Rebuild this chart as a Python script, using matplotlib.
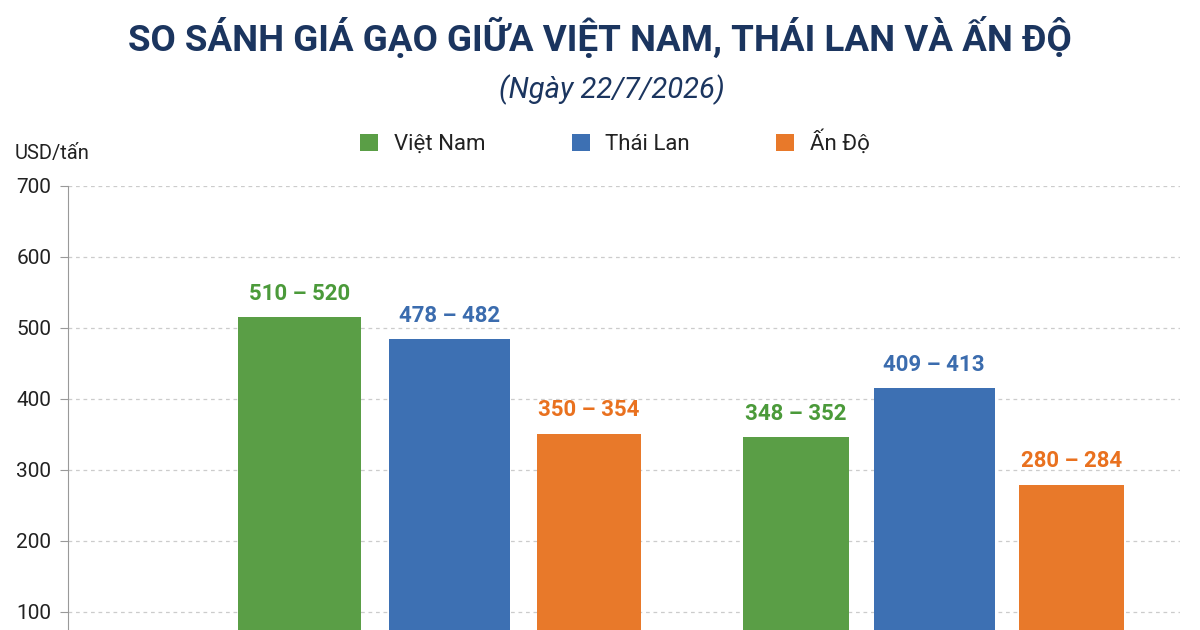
import matplotlib.pyplot as plt
import numpy as np

# du lieu
nhom = ['Nhóm 1', 'Nhóm 2']
quoc_gia = ['Việt Nam', 'Thái Lan', 'Ấn Độ']
gia_vn = [515, 346]
gia_tl = [484, 415]
gia_ad = [351, 279]
nhan_vn = ['510 – 520', '348 – 352']
nhan_tl = ['478 – 482', '409 – 413']
nhan_ad = ['350 – 354', '280 – 284']
yticks = [100, 200, 300, 400, 500, 600, 700]

mau_cot = ['#5a9e46', '#3d70b3', '#e8792a']
mau_chu = ['#4b9a3a', '#3b6cae', '#e9711f']

plt.rcParams['font.family'] = ['Roboto', 'DejaVu Sans']

fig = plt.figure(figsize=(12, 6.3), dpi=100)
fig.patch.set_facecolor('white')
ax = fig.add_axes([0.0567, 0.0, 0.9266, 0.7048])

x = np.arange(len(nhom))
# vi tri va do rong cot (theo tung nhom)
lech = [[-0.311, -0.285], [0.0, 0.0], [0.287, 0.284]]
rong = [[0.254, 0.219], [0.25, 0.25], [0.215, 0.215]]
series = [gia_vn, gia_tl, gia_ad]
nhans = [nhan_vn, nhan_tl, nhan_ad]

for i in range(3):
    bars = ax.bar(x + np.array(lech[i]), series[i], rong[i], color=mau_cot[i], zorder=3,
                  label=quoc_gia[i])
    for b, t in zip(bars, nhans[i]):
        ax.annotate(t, (b.get_x() + b.get_width() / 2, b.get_height()),
                    xytext=(0, 9), textcoords='offset points',
                    ha='center', va='bottom', fontsize=16, fontweight='bold',
                    color=mau_chu[i])

ax.set_xlim(-0.789, 1.508)
ax.set_ylim(74.6, 700)
ax.set_yticks(yticks)
ax.set_yticklabels([str(v) for v in yticks], fontsize=15, color='#222222')
ax.set_xticks(x)
ax.set_xticklabels(nhom)
ax.tick_params(axis='x', bottom=False, labelbottom=False)
ax.yaxis.grid(True, linestyle=(0, (3, 3)), color='#cccccc', linewidth=0.9, zorder=0)
for s in ['top', 'right', 'bottom']:
    ax.spines[s].set_visible(False)
ax.spines['left'].set_color('#999999')
ax.tick_params(axis='y', length=6, color='#999999', pad=6)
ax.set_facecolor('white')

fig.text(0.5, 0.94, 'SO SÁNH GIÁ GẠO GIỮA VIỆT NAM, THÁI LAN VÀ ẤN ĐỘ',
         ha='center', va='center', fontsize=26.5, fontweight='bold', color='#1b355f')
fig.text(0.51, 0.857, '(Ngày 22/7/2026)', ha='center', va='center',
         fontsize=21, style='italic', color='#1b355f')
fig.text(0.0125, 0.757, 'USD/tấn', ha='left', va='center', fontsize=14.5, color='#222222')

leg = ax.legend(loc='center', bbox_to_anchor=(0.5125, 0.773), bbox_transform=fig.transFigure,
                ncol=3, frameon=False, fontsize=16, handlelength=0.8, handleheight=0.8,
                columnspacing=3.9, handletextpad=0.7)
for t in leg.get_texts():
    t.set_color('#222222')

fig.savefig('out.png', dpi=100, facecolor='white')
